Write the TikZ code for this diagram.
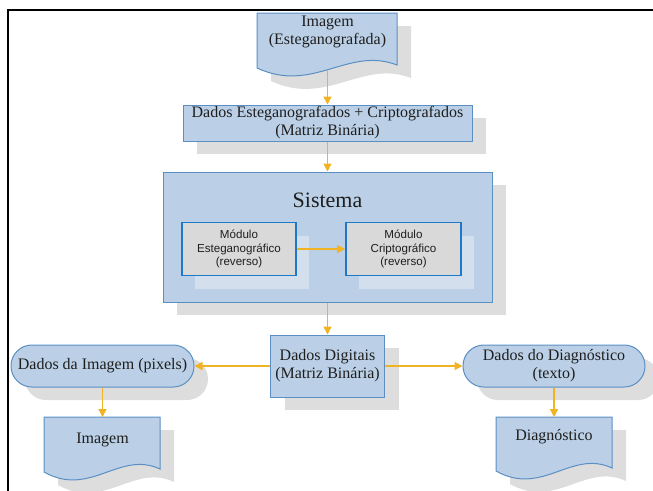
\documentclass[tikz,border=0pt]{standalone}
\usepackage{fontspec}
\setmainfont{Liberation Serif}
\setsansfont{Liberation Sans}
\usetikzlibrary{arrows.meta,shadows,calc}
\definecolor{boxfill}{HTML}{BBD0E6}
\definecolor{boxline}{HTML}{5B8FC4}
\definecolor{modfill}{HTML}{D9D9D9}
\definecolor{modline}{HTML}{1E78C8}
\definecolor{modshadow}{HTML}{D3DFEC}
\definecolor{shadowc}{HTML}{DDDDDD}
\definecolor{arrowc}{HTML}{F0B323}
\definecolor{txt}{HTML}{1E1E1E}
\newcommand\drawdoc[4]{%
  \fill[docshadow, shift={(14,13)}] (#1,#2) -- (#1,#4) .. controls ({#1+0.4*(#3-#1)},{#4+26}) and ({#1+0.65*(#3-#1)},{#4-22}) .. (#3,{#4-3}) -- (#3,#2) -- cycle;
  \filldraw[docshape] (#1,#2) -- (#1,#4) .. controls ({#1+0.4*(#3-#1)},{#4+26}) and ({#1+0.65*(#3-#1)},{#4-22}) .. (#3,{#4-3}) -- (#3,#2) -- cycle;
}
\begin{document}
\begin{tikzpicture}[x=1pt,y=-1pt,
  base/.style={text=txt, inner sep=0pt, align=center, font=\fontsize{16}{18}\selectfont},
  flowbox/.style={base, draw=boxline, line width=1pt, fill=boxfill,
    drop shadow={shadow xshift=14pt, shadow yshift=-13pt, fill=shadowc, opacity=1}},
  pill/.style={flowbox, rounded corners=20.9pt},
  modbox/.style={base, draw=modline, line width=1.8pt, fill=modfill,
    font=\sffamily\fontsize{11.6}{13.5}\selectfont,
    drop shadow={shadow xshift=13pt, shadow yshift=-13pt, fill=modshadow, opacity=1}},
  doctext/.style={base},
  docshape/.style={draw=boxline, line width=1pt, fill=boxfill},
  docshadow/.style={fill=shadowc},
  flow/.style={draw=arrowc, line width=1.4pt, -{Triangle[length=8pt,width=8pt]}},
  frame/.style={line width=2pt, black}
]
\useasboundingbox (0,0) rectangle (653,490);
\draw[frame] (8,491) -- (8,10) -- (654,10);

% documents
\drawdoc{257}{13}{397}{68}
\drawdoc{44}{417}{160}{472}
\drawdoc{496}{417}{612}{471}

\node[doctext] (d1) at (327.5,32) {Imagem\\(Esteganografada)};
\node[doctext] (d2) at (102.5,439.5) {Imagem};
\node[doctext] (d3) at (554,436.5) {Diagnóstico};
\coordinate (d1out) at (327.5,70);
\coordinate (d2in) at (102.5,417);
\coordinate (d3in) at (554,417);

\node[flowbox, minimum width=289pt, minimum height=36pt] (b1) at (327.5,123)
  {Dados Esteganografados + Criptografados\\(Matriz Binária)};
\node[flowbox, minimum width=329pt, minimum height=130pt] (sys) at (327.5,237) {};
\node[base, font=\fontsize{22}{24}\selectfont] (systitle) at (327.5,200) {Sistema};
\node[modbox, minimum width=114pt, minimum height=53pt] (m1) at (239,249)
  {Módulo\\Esteganográfico\\(reverso)};
\node[modbox, minimum width=115pt, minimum height=53pt] (m2) at (403.5,249)
  {Módulo\\Criptográfico\\(reverso)};
\node[flowbox, minimum width=114pt, minimum height=62pt] (dd) at (327.5,366)
  {Dados Digitais\\(Matriz Binária)};
\node[pill, minimum width=183pt, minimum height=42pt] (ri) at (102.5,366)
  {Dados da Imagem (pixels)};
\node[pill, minimum width=182pt, minimum height=42pt] (rd) at (554,366)
  {Dados do Diagnóstico\\(texto)};

% connectors
\draw[flow] (d1out) -- (b1.north);
\draw[flow] (b1.south) -- (sys.north);
\draw[flow] (m1.east) -- (m2.west);
\draw[flow] (sys.south) -- (dd.north);
\draw[flow] (dd.west) -- (ri.east);
\draw[flow] (dd.east) -- (rd.west);
\draw[flow] (ri.south) -- (d2in);
\draw[flow] (rd.south) -- (d3in);
\end{tikzpicture}
\end{document}
